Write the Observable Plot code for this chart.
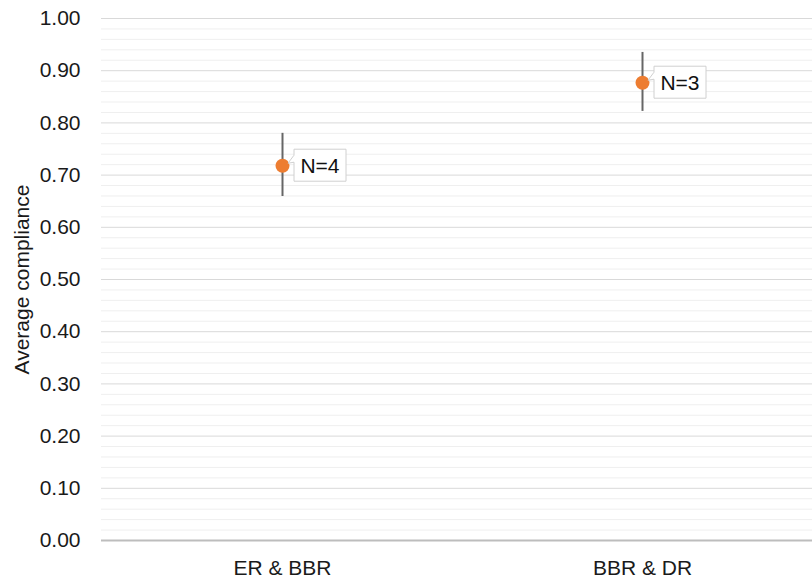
<!DOCTYPE html>
<html><head><meta charset="utf-8">
<script src="https://cdn.jsdelivr.net/npm/d3@7"></script>
<script src="https://cdn.jsdelivr.net/npm/@observablehq/plot@0.6"></script>
<style>
html,body{margin:0;padding:0;background:#fff;overflow:hidden;width:812px;height:578px;}
#chart{width:812px;height:578px;overflow:hidden;}
#chart svg{max-width:none !important;}
</style>
</head><body><div id="chart"></div>
<script>
const categories = ["ER & BBR", "BBR & DR"];
const means = [0.718, 0.877];
const lows = [0.659, 0.822];
const highs = [0.780, 0.935];
const counts = ["N=4", "N=3"];
const yTicks = [0, 0.1, 0.2, 0.3, 0.4, 0.5, 0.6, 0.7, 0.8, 0.9, 1.0];
const minorTicks = d3.range(1, 50).map(i => i / 50).filter(v => Math.abs(v * 10 - Math.round(v * 10)) > 1e-6);

const data = categories.map((c, i) => ({cat: c, mean: means[i], lo: lows[i], hi: highs[i], label: counts[i]}));

const font = "'Liberation Sans', Arial, sans-serif";

function calloutLabels(index, scales, values, dims, context) {
  const g = d3.create("svg:g");
  const bw = scales.x.bandwidth ? scales.x.bandwidth() : 0;
  for (const i of index) {
    const d = data[i];
    const px = scales.x(d.cat) + bw / 2;
    const py = scales.y(d.mean);
    const gg = g.append("g").attr("transform", `translate(${px},${py})`);
    gg.append("path")
      .attr("d", "M12,-16H64V16H12V-3L6,-2L12,-10Z")
      .attr("fill", "#fff")
      .attr("stroke", "#d0d0d0")
      .attr("stroke-width", 1);
    gg.append("text")
      .attr("x", 38).attr("y", 0).attr("dy", "0.36em")
      .attr("text-anchor", "middle")
      .attr("font-family", font).attr("font-size", 21).attr("fill", "#111")
      .text(d.label);
  }
  return g.node();
}

const chart = Plot.plot({
  width: 822,
  height: 578,
  marginLeft: 101,
  marginRight: 0,
  marginTop: 18,
  marginBottom: 38,
  style: {fontFamily: font, fontSize: "21px", color: "#1a1a1a", background: "#fff", maxWidth: "none"},
  x: {type: "band", domain: categories, padding: 0, label: null, tickSize: 0, tickPadding: 20},
  y: {domain: [0, 1], ticks: yTicks, tickFormat: d3.format(".2f"), tickSize: 0, tickPadding: 21,
      label: "Average compliance", labelAnchor: "center", labelArrow: "none", labelOffset: 87},
  marks: [
    Plot.ruleY(minorTicks, {stroke: "#efefef", strokeWidth: 1}),
    Plot.ruleY(yTicks.filter(v => v > 0), {stroke: "#d9d9d9", strokeWidth: 1}),
    Plot.ruleY([0], {stroke: "#bdbdbd", strokeWidth: 2}),
    Plot.ruleX(data, {x: "cat", y1: "lo", y2: "hi", stroke: "#666", strokeWidth: 2}),
    Plot.dot(data, {x: "cat", y: "mean", r: 7, fill: "#ED7D31", stroke: "none"}),
    Plot.text(data, {x: "cat", y: "mean", text: "label", render: calloutLabels})
  ]
});
document.getElementById("chart").appendChild(chart);
</script>
</body></html>
